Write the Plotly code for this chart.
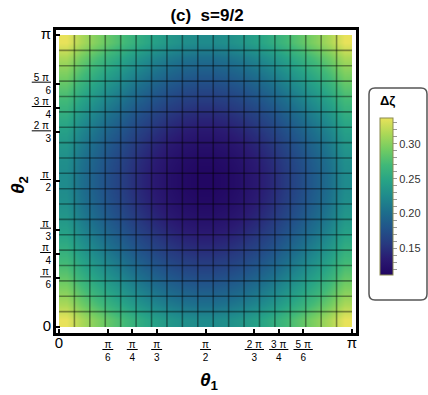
import numpy as np
import plotly.graph_objects as go

PI = np.pi

# sample grid: 20 cells per axis on [0, pi] (edges), mesh at 19 divisions
theta_edges = np.linspace(0, PI, 21)
mesh = np.linspace(0, PI, 20)

# Δζ values (rows = θ2 index, cols = θ1 index)
r0 = [0.3370,0.3145,0.2985,0.2830,0.2695,0.2560,0.2445,0.2355,0.2290,0.2255,0.2255,0.2290,0.2355,0.2445,0.2560,0.2695,0.2830,0.2985,0.3145,0.3370]
r1 = [0.3145,0.2920,0.2760,0.2605,0.2470,0.2335,0.2220,0.2130,0.2065,0.2030,0.2030,0.2065,0.2130,0.2220,0.2335,0.2470,0.2605,0.2760,0.2920,0.3145]
r2 = [0.2985,0.2760,0.2600,0.2445,0.2310,0.2175,0.2060,0.1970,0.1905,0.1870,0.1870,0.1905,0.1970,0.2060,0.2175,0.2310,0.2445,0.2600,0.2760,0.2985]
r3 = [0.2830,0.2605,0.2445,0.2290,0.2155,0.2020,0.1905,0.1815,0.1750,0.1715,0.1715,0.1750,0.1815,0.1905,0.2020,0.2155,0.2290,0.2445,0.2605,0.2830]
r4 = [0.2695,0.2470,0.2310,0.2155,0.2020,0.1885,0.1770,0.1680,0.1615,0.1580,0.1580,0.1615,0.1680,0.1770,0.1885,0.2020,0.2155,0.2310,0.2470,0.2695]
r5 = [0.2560,0.2335,0.2175,0.2020,0.1885,0.1750,0.1635,0.1545,0.1480,0.1445,0.1445,0.1480,0.1545,0.1635,0.1750,0.1885,0.2020,0.2175,0.2335,0.2560]
r6 = [0.2445,0.2220,0.2060,0.1905,0.1770,0.1635,0.1520,0.1430,0.1365,0.1330,0.1330,0.1365,0.1430,0.1520,0.1635,0.1770,0.1905,0.2060,0.2220,0.2445]
r7 = [0.2355,0.2130,0.1970,0.1815,0.1680,0.1545,0.1430,0.1340,0.1275,0.1240,0.1240,0.1275,0.1340,0.1430,0.1545,0.1680,0.1815,0.1970,0.2130,0.2355]
r8 = [0.2290,0.2065,0.1905,0.1750,0.1615,0.1480,0.1365,0.1275,0.1210,0.1175,0.1175,0.1210,0.1275,0.1365,0.1480,0.1615,0.1750,0.1905,0.2065,0.2290]
r9 = [0.2255,0.2030,0.1870,0.1715,0.1580,0.1445,0.1330,0.1240,0.1175,0.1140,0.1140,0.1175,0.1240,0.1330,0.1445,0.1580,0.1715,0.1870,0.2030,0.2255]
z = [r0, r1, r2, r3, r4, r5, r6, r7, r8, r9, r9, r8, r7, r6, r5, r4, r3, r2, r1, r0]

zmin, zmax = 0.112, 0.337

tick_vals = [0, PI/6, PI/4, PI/3, PI/2, 2*PI/3, 3*PI/4, 5*PI/6, PI]
tick_num = ["0", "π", "π", "π", "π", "2 π", "3 π", "5 π", "π"]
tick_den = [None, "6", "4", "3", "2", "3", "4", "6", None]

cbar_vals = [0.12, 0.13, 0.14, 0.15, 0.16, 0.17, 0.18, 0.19, 0.20, 0.21, 0.22,
             0.23, 0.24, 0.25, 0.26, 0.27, 0.28, 0.29, 0.30, 0.31, 0.32, 0.33]
cbar_labels = ["0.15", "0.20", "0.25", "0.30"]


def make_labels():
    out = []
    for n, d in zip(tick_num, tick_den):
        if d is None:
            out.append('<span style="font-size:15px">%s</span>' % n)
        else:
            out.append('<u>&#8201;%s&#8201;</u><br>%s' % (n, d))
    return out


labels = make_labels()
cb_text = [("%.2f" % v) if ("%.2f" % v) in cbar_labels else "" for v in cbar_vals]

colorscale = [
    [0.00, "#210561"],
    [0.10, "#2a1a72"],
    [0.20, "#273a80"],
    [0.30, "#21548a"],
    [0.40, "#1d6e8c"],
    [0.50, "#1f8a8c"],
    [0.60, "#27a386"],
    [0.70, "#40b878"],
    [0.80, "#72cc62"],
    [0.90, "#acd857"],
    [1.00, "#e8e25a"],
]

FW, FH = 428, 395
# plot-area geometry in page pixels
L, R, T, B = 56, 356, 30, 333
W, H = R - L, B - T


def px(xp):
    return (xp - L) / W


def py(yp):
    return (B - yp) / H


fig = go.Figure()
fig.add_trace(go.Heatmap(
    x=theta_edges, y=theta_edges, z=z, zsmooth="best", zmin=zmin, zmax=zmax,
    colorscale=colorscale,
    colorbar=dict(
        x=px(380), xanchor="left", xpad=0, ypad=0,
        y=py(196.5), yanchor="middle",
        lenmode="pixels", len=157, thicknessmode="pixels", thickness=13,
        outlinecolor="#8a8a50", outlinewidth=1,
        tickvals=cbar_vals, ticktext=cb_text, ticks="outside", ticklen=4,
        tickcolor="#999999", tickwidth=1,
        tickfont=dict(size=11, color="#333333", family="Arial, Liberation Sans"),
    ),
    hoverinfo="skip",
))

# mesh lines
mx, my = [], []
for t in mesh[1:-1]:
    mx += [t, t, None]
    my += [mesh[0], mesh[-1], None]
    mx += [mesh[0], mesh[-1], None]
    my += [t, t, None]
fig.add_trace(go.Scatter(x=mx, y=my, mode="lines",
                         line=dict(color="rgba(0,0,0,0.4)", width=1.6),
                         hoverinfo="skip", showlegend=False))

axis_common = dict(
    showgrid=False, zeroline=False, showline=True, linewidth=3, linecolor="black",
    mirror=True, ticks="inside", ticklen=4, tickwidth=2, tickcolor="black",
    tickvals=tick_vals, ticktext=labels, automargin=False,
    tickfont=dict(size=10, color="black", family="Arial, Liberation Sans"),
)

rx = 3.0 / W * 2
ry = 3.0 / H * 2
bx0, bx1, by0, by1 = px(369), px(427), py(300), py(88)
box_path = (
    f"M {bx0+rx},{by1} L {bx1-rx},{by1} Q {bx1},{by1} {bx1},{by1-ry} "
    f"L {bx1},{by0+ry} Q {bx1},{by0} {bx1-rx},{by0} L {bx0+rx},{by0} "
    f"Q {bx0},{by0} {bx0},{by0+ry} L {bx0},{by1-ry} Q {bx0},{by1} {bx0+rx},{by1} Z"
)

fig.update_layout(
    width=FW, height=FH,
    margin=dict(l=L, r=FW - R, t=T, b=FH - B, autoexpand=False),
    paper_bgcolor="white", plot_bgcolor="white",
    showlegend=False,
    title=dict(text="<b>(c)  s=9/2</b>", x=207 / FW, xanchor="center",
               y=1 - 15 / FH, yanchor="middle",
               font=dict(size=17, color="black", family="Arial, Liberation Sans")),
    xaxis=dict(range=[-0.0322, PI + 0.0430], **axis_common),
    yaxis=dict(range=[-0.0646, PI + 0.0538], **axis_common),
    shapes=[dict(type="path", xref="paper", yref="paper", layer="below",
                 path=box_path,
                 line=dict(color="#555555", width=1.5), fillcolor="rgba(0,0,0,0)")],
    annotations=[
        dict(text="<b>Δζ</b>", xref="paper", yref="paper",
             x=px(387), y=py(101), showarrow=False,
             xanchor="center", yanchor="middle",
             font=dict(size=13, color="black", family="Arial, Liberation Sans")),
        dict(text="<b><i>θ</i><sub>1</sub></b>", xref="paper", yref="paper",
             x=px(209), y=py(381), showarrow=False,
             xanchor="center", yanchor="middle",
             font=dict(size=19, color="black", family="Arial, Liberation Sans")),
        dict(text="<b><i>θ</i><sub>2</sub></b>", xref="paper", yref="paper",
             x=px(19), y=py(185), showarrow=False, textangle=-90,
             xanchor="center", yanchor="middle",
             font=dict(size=19, color="black", family="Arial, Liberation Sans")),
    ],
)

fig.write_html("out.html",
               config={"displayModeBar": False, "staticPlot": True},
               post_script="document.body.style.margin='0';document.body.style.overflow='hidden';")
